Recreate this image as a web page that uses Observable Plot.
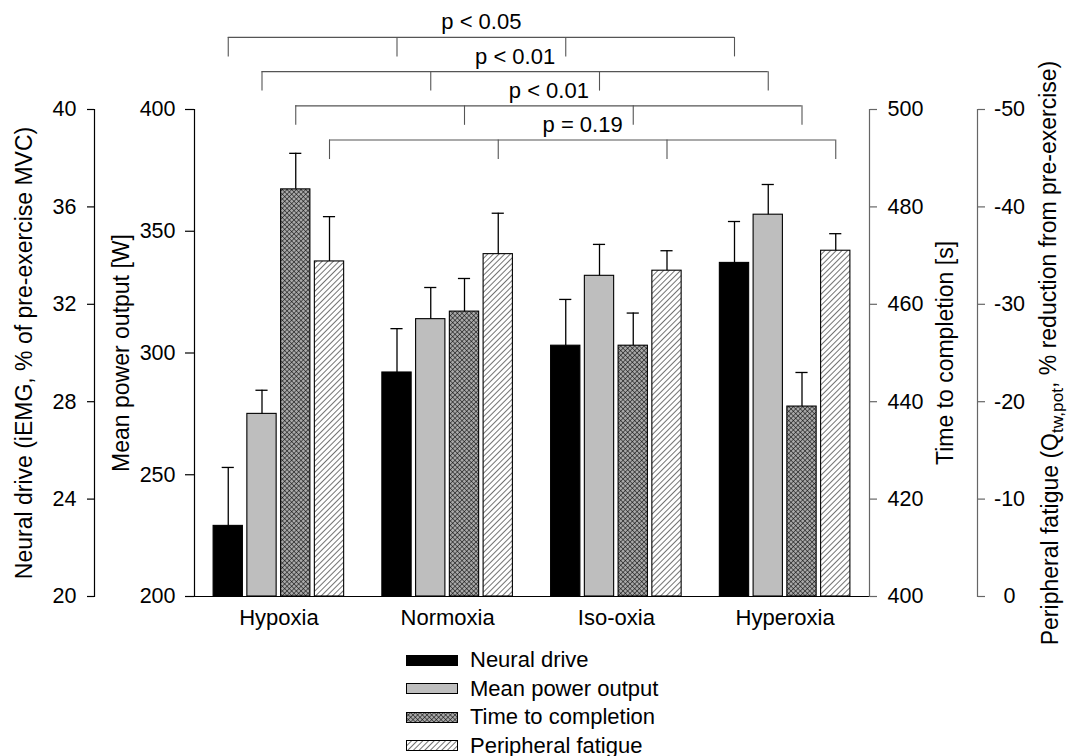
<!DOCTYPE html>
<html>
<head>
<meta charset="utf-8">
<script src="https://cdn.jsdelivr.net/npm/d3@7"></script>
<script src="https://cdn.jsdelivr.net/npm/@observablehq/plot@0.6"></script>
<style>
  body { margin: 0; background: #fff; font-family: "Liberation Sans", Arial, Helvetica, sans-serif; }
  #legend { padding-left: 406px; }
  .lrow { height: 28.5px; display: flex; align-items: center; font-size: 22px; color: #000; }
  .lrow svg { display: block; }
  .lrow span { margin-left: 12px; }
</style>
</head>
<body>
<div id="chart"></div>
<div id="legend"></div>
<script>
// ---------- data ----------
const groups = ["Hypoxia", "Normoxia", "Iso-oxia", "Hyperoxia"];
const series = ["Neural drive", "Mean power output", "Time to completion", "Peripheral fatigue"];

const neuralDrive = [22.9, 29.2, 30.3, 33.7];
const neuralDriveSE = [2.4, 1.8, 1.9, 1.7];
const meanPower = [275.0, 313.9, 331.7, 356.8];
const meanPowerSE = [9.7, 13.0, 12.9, 12.4];
const timeToCompletion = [483.6, 458.5, 451.5, 439.0];
const timeToCompletionSE = [7.4, 6.8, 6.7, 7.0];
const peripheralFatigue = [-34.4, -35.15, -33.45, -35.5];
const peripheralFatigueSE = [4.6, 4.2, 2.05, 1.75];

const neuralTicks = [20, 24, 28, 32, 36, 40];
const powerTicks = [200, 250, 300, 350, 400];
const timeTicks = [400, 420, 440, 460, 480, 500];
const fatigueTicks = [0, -10, -20, -30, -40, -50];

const axisTitles = [
  "Neural drive (iEMG, % of pre-exercise MVC)",
  "Mean power output [W]",
  "Time to completion [s]",
  "Peripheral fatigue (Qtw,pot, % reduction from pre-exercise)"
];

const brackets = [
  {label: "p < 0.05", series: "Neural drive"},
  {label: "p < 0.01", series: "Mean power output"},
  {label: "p < 0.01", series: "Time to completion"},
  {label: "p = 0.19", series: "Peripheral fatigue"}
];

// ---------- derived ----------
const seriesValues = [neuralDrive, meanPower, timeToCompletion, peripheralFatigue];
const seriesSE = [neuralDriveSE, meanPowerSE, timeToCompletionSE, peripheralFatigueSE];
const axisDomains = [[20, 40], [200, 400], [400, 500], [0, -50]];
const yDomain = axisDomains[1];
const toY = (j, v) => { const [a, b] = axisDomains[j]; return yDomain[0] + (v - a) / (b - a) * (yDomain[1] - yDomain[0]); };
const fromY = (j, p) => { const [a, b] = axisDomains[j]; return Math.round((a + (p - yDomain[0]) / (yDomain[1] - yDomain[0]) * (b - a)) * 1000) / 1000; };

const nS = series.length;
const slot = (i, j) => i * (nS + 1) + j;
const xDomain = [-1, slot(groups.length - 1, nS - 1) + 1];
const halfBar = 0.434, halfCap = 0.18;

const rows = groups.flatMap((g, i) => series.map((s, j) => {
  const m = seriesValues[j][i], se = seriesSE[j][i];
  const [a, b] = axisDomains[j];
  return {group: g, series: s, i, j, x: slot(i, j), y: toY(j, m), yErr: toY(j, m + Math.sign(b - a) * se)};
}));

const fills = ["#000000", "#bebebe", "url(#xhatch)", "url(#hatch)"];

const bracketTop = (k) => 429.6 - k * 14.05;
const bracketDrop = 8;
const bracketTicks = brackets.flatMap((b) => {
  const k = series.indexOf(b.series);
  return groups.map((g, i) => ({k, x: slot(i, k)}));
});

const W = 1067, H = 646, mL = 194, mR = 198, mT = 109, yBottom = 596;

const plot = Plot.plot({
  width: W,
  height: H,
  marginLeft: mL,
  marginRight: mR,
  marginTop: mT,
  marginBottom: H - yBottom,
  x: {domain: xDomain, axis: null},
  y: {domain: yDomain, axis: null},
  style: {fontFamily: '"Liberation Sans", Arial, Helvetica, sans-serif', fontSize: "21.5px", color: "#000", background: "#fff", overflow: "visible"},
  marks: [
    // bars
    ...series.map((s, j) => Plot.rectY(rows.filter((d) => d.j === j), {
      x1: (d) => d.x - halfBar, x2: (d) => d.x + halfBar,
      y1: () => yDomain[0], y2: "y",
      fill: fills[j], stroke: "#000", strokeWidth: 1.1
    })),
    // error bars
    Plot.ruleX(rows, {x: "x", y1: "y", y2: "yErr", stroke: "#000", strokeWidth: 1.3}),
    Plot.ruleY(rows, {y: "yErr", x1: (d) => d.x - halfCap, x2: (d) => d.x + halfCap, stroke: "#000", strokeWidth: 1.3}),
    // baseline
    Plot.ruleY([yDomain[0]], {stroke: "#000", strokeWidth: 1.2}),
    // power axis (left)
    Plot.frame({anchor: "left", stroke: "#000", strokeWidth: 1.2}),
    Plot.axisY(powerTicks, {anchor: "left", tickSize: 9, tickPadding: 10, label: null, strokeWidth: 1.2}),
    // neural drive axis (far left)
    Plot.frame({anchor: "left", dx: -100, stroke: "#000", strokeWidth: 1.2}),
    Plot.axisY(neuralTicks.map((v) => toY(0, v)), {anchor: "left", dx: -100, tickSize: 7, tickPadding: 11, label: null, strokeWidth: 1.2, tickFormat: (p) => String(fromY(0, p))}),
    // time axis (right)
    Plot.frame({anchor: "right", stroke: "#666", strokeWidth: 1.2}),
    Plot.axisY(timeTicks.map((v) => toY(2, v)), {anchor: "right", tickSize: 7, tickPadding: 11, label: null, stroke: "#666", strokeWidth: 1.2, tickFormat: (p) => String(fromY(2, p))}),
    // fatigue axis (far right)
    Plot.frame({anchor: "right", dx: 108, stroke: "#666", strokeWidth: 1.2}),
    Plot.axisY(fatigueTicks.map((v) => toY(3, v)), {anchor: "right", dx: 108, tickSize: 7, tickPadding: 11, label: null, stroke: "#666", strokeWidth: 1.2, tickFormat: () => ""}),
    Plot.text(fatigueTicks, {y: (v) => toY(3, v), text: (v) => String(v), frameAnchor: "right", dx: 140, textAnchor: "middle", lineAnchor: "middle"}),
    // axis titles
    Plot.text([axisTitles[0]], {text: (d) => d, frameAnchor: "left", dx: -170, rotate: -90, fontSize: 23, textAnchor: "middle", lineAnchor: "middle"}),
    Plot.text([axisTitles[1]], {text: (d) => d, frameAnchor: "left", dx: -73, rotate: -90, fontSize: 23, textAnchor: "middle", lineAnchor: "middle"}),
    Plot.text([axisTitles[2]], {text: (d) => d, frameAnchor: "right", dx: 76, rotate: -90, fontSize: 23, textAnchor: "middle", lineAnchor: "middle"}),
    Plot.text([axisTitles[3]], {text: (d) => d, frameAnchor: "right", dx: 181, rotate: -90, fontSize: 23, textAnchor: "middle", lineAnchor: "middle"}),
    // group labels
    Plot.text(groups, {x: (g, i) => slot(i, (nS - 1) / 2), text: (d) => d, frameAnchor: "bottom", dy: 21, lineAnchor: "middle", fontSize: 22}),
    // significance brackets
    Plot.ruleY(brackets, {y: (b) => bracketTop(series.indexOf(b.series)), x1: (b) => slot(0, series.indexOf(b.series)), x2: (b) => slot(groups.length - 1, series.indexOf(b.series)), stroke: "#555", strokeWidth: 1.1}),
    Plot.ruleX(bracketTicks, {x: "x", y1: (d) => bracketTop(d.k) - bracketDrop, y2: (d) => bracketTop(d.k), stroke: "#555", strokeWidth: 1.1}),
    Plot.text(brackets, {x: (b) => (slot(0, series.indexOf(b.series)) + slot(groups.length - 1, series.indexOf(b.series))) / 2, y: (b) => bracketTop(series.indexOf(b.series)), text: "label", dy: -15, lineAnchor: "middle", fontSize: 22})
  ]
});

// patterns
const defsHTML = `
  <pattern id="xhatch" patternUnits="userSpaceOnUse" width="3.3" height="3.3" patternTransform="rotate(45)">
    <rect width="3.3" height="3.3" fill="#a8a8a8"></rect>
    <line x1="0" y1="0" x2="0" y2="3.3" stroke="#000" stroke-width="1"></line>
    <line x1="0" y1="0" x2="3.3" y2="0" stroke="#000" stroke-width="1"></line>
  </pattern>
  <pattern id="hatch" patternUnits="userSpaceOnUse" width="4" height="4" patternTransform="rotate(45)">
    <rect width="4" height="4" fill="#fff"></rect>
    <line x1="0" y1="0" x2="0" y2="4" stroke="#000" stroke-width="1.1"></line>
  </pattern>`;
const defs = document.createElementNS("http://www.w3.org/2000/svg", "defs");
defs.innerHTML = defsHTML;
plot.insertBefore(defs, plot.firstChild);

// subscript in fatigue title
d3.select(plot).selectAll("text").filter(function () { return this.textContent === axisTitles[3]; })
  .each(function () {
    const t = d3.select(this);
    t.text(null);
    t.append("tspan").text("Peripheral fatigue (Q");
    t.append("tspan").attr("dy", "0.3em").attr("font-size", "0.75em").text("tw,pot");
    t.append("tspan").attr("dy", "-0.3em").text(", % reduction from pre-exercise)");
  });

document.getElementById("chart").appendChild(plot);

// legend
const legend = d3.select("#legend");
series.forEach((s, j) => {
  const row = legend.append("div").attr("class", "lrow");
  const sv = row.append("svg").attr("width", 52).attr("height", 11);
  sv.append("rect").attr("x", 0.5).attr("y", 0.5).attr("width", 51).attr("height", 10)
    .attr("fill", fills[j]).attr("stroke", "#000").attr("stroke-width", 1);
  row.append("span").text(s);
});
</script>
</body>
</html>
